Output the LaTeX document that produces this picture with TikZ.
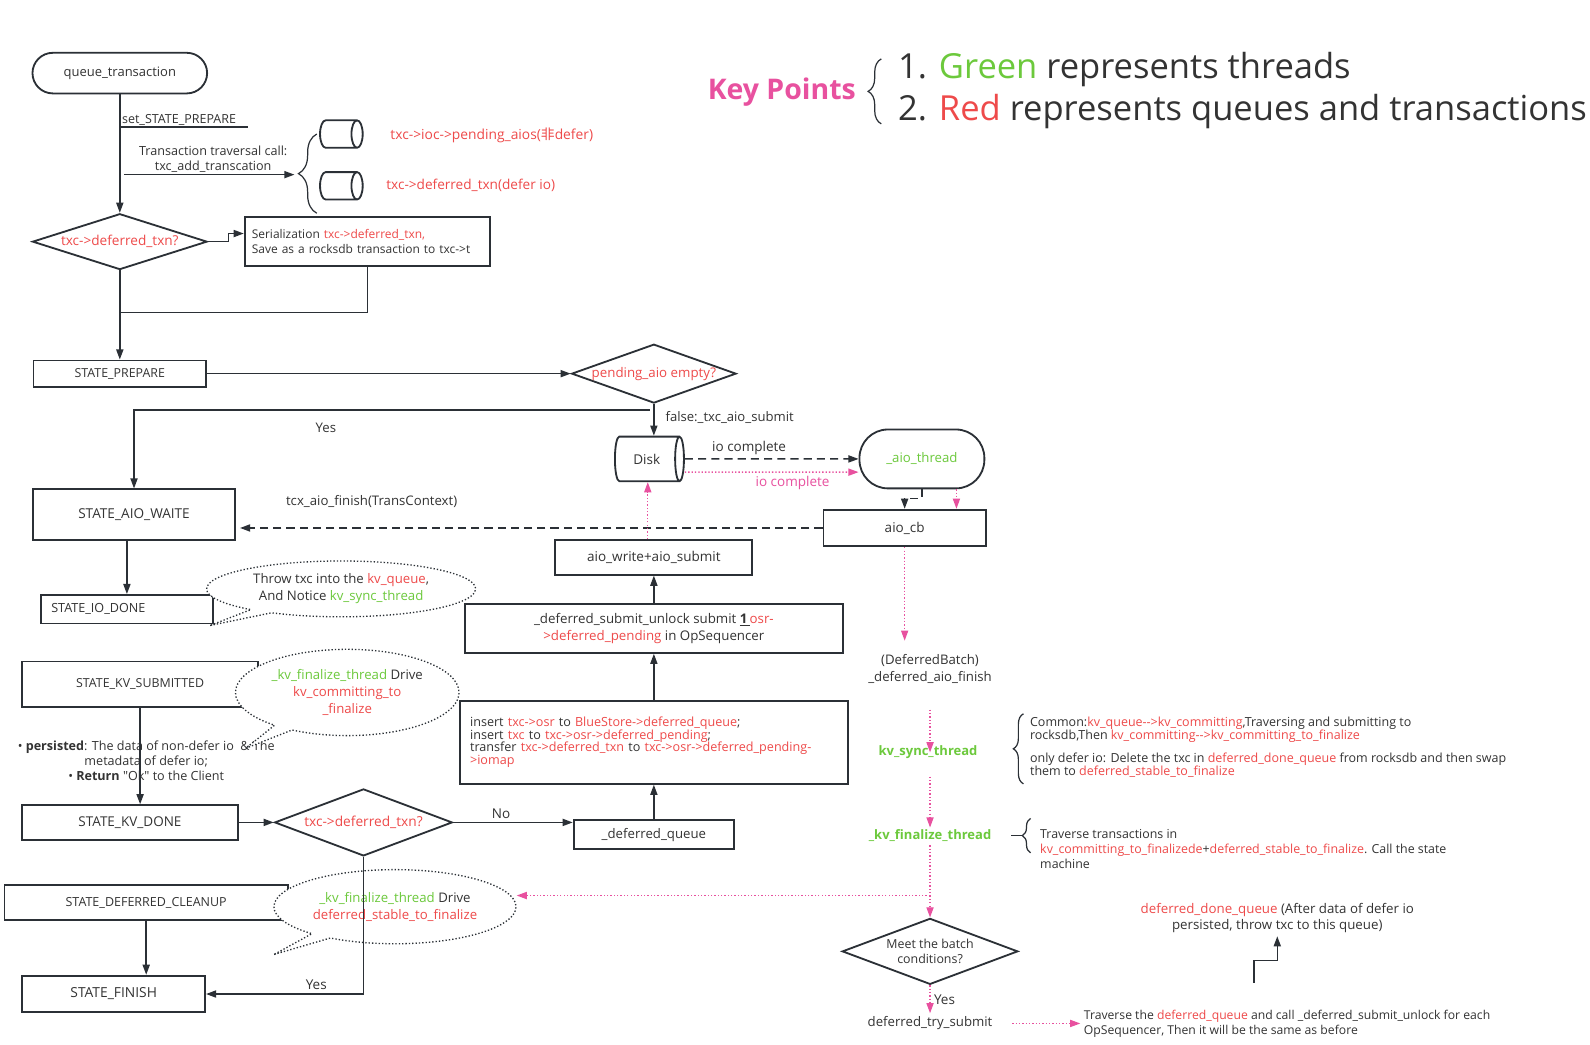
\documentclass[tikz,border=0pt]{standalone}
\usepackage{fontspec}
\setmainfont{Open Sans}[Ligatures=TeXOff]
\newfontfamily\cjk{Noto Sans CJK SC}
\usetikzlibrary{shapes.geometric,shapes.callouts,decorations.pathreplacing,arrows.meta}

\definecolor{kred}{HTML}{EE4A4A}
\definecolor{kgreen}{HTML}{6CC93C}
\definecolor{kpink}{HTML}{E8519F}
\definecolor{kline}{HTML}{2B3036}
\definecolor{ktext}{HTML}{333333}

\newcommand{\redtxt}[1]{\textcolor{kred}{#1}}
\newcommand{\greentxt}[1]{\textcolor{kgreen}{#1}}
\newcommand{\fsize}[2]{\fontsize{#1}{#2}\selectfont}

\begin{document}
\catcode`\_=12
\begin{tikzpicture}[x=1pt, y=-1pt,
    >={Triangle[length=10pt, width=7pt]},
    every node/.style={text=ktext, font=\fsize{13.3}{16}},
    box/.style={draw=kline, line width=1.8pt, inner sep=2pt},
    roundbox/.style={box},
    decision/.style={diamond, draw=kline, line width=1.8pt, inner sep=0pt, aspect=2.8},
    cyl/.style={cylinder, draw=kline, line width=1.8pt, shape aspect=0.85, inner sep=0pt},
    bubble/.style={ellipse callout, draw=kline, dotted, line width=1.3pt, fill=white, align=center, callout pointer arc=11, font=\fsize{13}{17}},
    flow/.style={->, draw=kline, line width=1.5pt},
    dashflow/.style={flow, dash pattern=on 8pt off 5pt},
    pinkflow/.style={->, draw=kpink, line width=1.3pt, dotted},
    bracedeco/.style={decorate, decoration={brace, amplitude=#1}, draw=kline, line width=1.2pt}]

    \fill[white] (0,0) rectangle (1566,1029);
    \useasboundingbox (0,0) rectangle (1566,1029);

    % Key points
    \node[text=kpink, font=\bfseries\fsize{28}{32}] (keyp) at (770,91) {Key Points};
    \draw[bracedeco=13pt] (868,122) -- (868,58);
    \node[anchor=west, font=\fsize{34}{40}] (key1) at (881,68) {1. \greentxt{Green} represents threads};
    \node[anchor=west, font=\fsize{34}{40}] (key2) at (881,110) {2. \redtxt{Red} represents queues and transactions};

    % queue_transaction
    \node[roundbox, rounded corners=20pt, minimum width=172, minimum height=40, font=\fsize{12.8}{15}] (queue) at (118,72) {queue_transaction};
    \node[decision, minimum width=172, minimum height=55, font=\fsize{13.4}{15}] (dec1) at (118,238) {\redtxt{txc->deferred_txn?}};
    \draw[flow] (queue) -- (dec1);
    \node[anchor=south west, text width=122, inner xsep=2pt, inner ysep=1pt, font=\fsize{12.3}{14}] (setlbl) at (118,125) {set_STATE_PREPARE};
    \draw[kline, line width=1.2pt] (setlbl.south west) -- (setlbl.south east);

    % queues
    \node[align=center, font=\fsize{12.4}{15}] (travlbl) at (210,157) {Transaction traversal call:\\txc_add_transcation};
    \coordinate (travstart) at (122,172);
    \coordinate (qtip) at (290,172);
    \draw[flow] (travstart) -- (qtip);
    \draw[bracedeco=18pt] (312,210) -- (312,132);
    \node[cyl, minimum height=42, minimum width=27] (q1) at (333,132) {\rule{0pt}{13pt}};
    \node[cyl, minimum height=42, minimum width=27] (q2) at (333,183) {\rule{0pt}{13pt}};
    \node[anchor=west, text=kred, font=\fsize{13.6}{15}] (q1lbl) at (381,133) {txc->ioc->pending_aios({\cjk 非}defer)};
    \node[anchor=west, text=kred, font=\fsize{13.4}{15}] (q2lbl) at (377,183) {txc->deferred_txn(defer io)};

    % Serialization
    \node[box, minimum width=242, minimum height=48, text width=228, inner xsep=7pt, align=left, font=\fsize{11.8}{15}] (serial) at (362,238) {Serialization \redtxt{txc->deferred_txn,}\\Save as a rocksdb transaction to txc->t};
    \draw[flow] (dec1.east) -- ++(20,0) -- ++(0,-8) -- ([yshift=8pt]serial.west);
    \coordinate (join1) at (118,308);
    \draw[kline, line width=1.5pt] (serial.south) |- (join1);

    % STATE_PREPARE
    \node[box, minimum width=170, minimum height=26, font=\fsize{12.2}{14}] (prep) at (118,368) {STATE_PREPARE};
    \draw[flow] (dec1.south) -- (prep.north);
    \node[decision, minimum width=162, minimum height=58, inner xsep=-8pt, font=\fsize{13.1}{15}] (pend) at (644,368) {\redtxt{pending_aio empty?}};
    \draw[flow] (prep.east) -- (pend.west);

    % Disk and aio
    \node[cyl, minimum height=68, minimum width=44] (disk) at (637,452) {Disk};
    \draw[flow] (pend.south) -- (pend.south |- disk.north);
    \node[anchor=west, font=\fsize{12.9}{15}] (falselbl) at (652,411) {false:_txc_aio_submit};
    \node[roundbox, rounded corners=28pt, minimum width=123, minimum height=58, font=\fsize{13}{15}] (aiothr) at (908,452) {\greentxt{_aio_thread}};
    \draw[dashflow] (disk.east) -- (aiothr.west) node[pos=0.37, above] (iolbl1) {io complete};
    \draw[pinkflow] ([yshift=-13pt]disk.east) -- ([yshift=-13pt]aiothr.west) node[pos=0.62, below, text=kpink] (iolbl2) {io complete};
    \node[box, minimum width=160, minimum height=36] (aiocb) at (891,520) {aio_cb};
    \draw[dashflow] (aiothr.south) -- ++(0,9) -| (aiocb.north);
    \draw[pinkflow] ([xshift=34pt]aiothr.south) -- ([xshift=34pt]aiothr.south |- aiocb.north);

    % STATE_AIO_WAITE
    \node[box, minimum width=199, minimum height=50, font=\fsize{13.4}{15}] (aiowait) at (132,507) {STATE_AIO_WAITE};
    \coordinate (yesfork) at (640,404);
    \draw[flow] (yesfork) -| (aiowait.north);
    \node[font=\fsize{13}{15}] (yes1) at (321,421) {Yes};
    \draw[dashflow, shorten >=4pt] (aiocb.west) -- (aiocb.west -| aiowait.east);
    \node[font=\fsize{13}{15}] (finlbl) at (366,494) {tcx_aio_finish(TransContext)};
    \node[box, minimum width=169, minimum height=28, text width=149, inner xsep=10pt, font=\fsize{12.4}{14}] (iodone) at (125,600) {STATE_IO_DONE};
    \draw[flow] (aiowait.south -| iodone.north) -- (iodone.north);

    % OpSequencer path
    \node[box, minimum width=194, minimum height=34] (aiowrite) at (644,549) {aio_write+aio_submit};
    \draw[pinkflow] ([xshift=-6pt]aiowrite.north) -- ([xshift=-6pt]aiowrite.north |- disk.south);
    \node[box, minimum width=372, minimum height=48, align=center, font=\fsize{13.1}{16}] (unlock) at (644,619) {_deferred_submit_unlock submit \underline{\textbf{1}\,}\redtxt{osr-}\\\redtxt{>deferred_pending} in OpSequencer};
    \draw[flow] (unlock.north) -- (aiowrite.south);
    \node[box, minimum width=382, minimum height=82, text width=362, inner xsep=10pt, align=left, font=\fsize{12.4}{12.5}] (insert) at (644,731) {insert \redtxt{txc->osr} to \redtxt{BlueStore->deferred_queue};\\insert \redtxt{txc} to \redtxt{txc->osr->deferred_pending};\\transfer \redtxt{txc->deferred_txn} to \redtxt{txc->osr->deferred_pending-}\\\redtxt{>iomap}};
    \draw[flow] (insert.north) -- (unlock.south);
    \node[box, minimum width=158, minimum height=29, font=\fsize{13}{15}] (dqueue) at (644,822) {_deferred_queue};
    \draw[flow] (dqueue.north) -- (insert.south);

    % KV states
    \node[box, minimum width=232, minimum height=45, font=\fsize{12.2}{14}] (kvsub) at (138,674) {STATE_KV_SUBMITTED};
    \node[box, minimum width=213, minimum height=34] (kvdone) at (128,810) {STATE_KV_DONE};
    \node[align=center, font=\fsize{12.4}{15}] (persist) at (144,749) {\textbullet\ \textbf{persisted}: The data of non-defer io \ \& The\\metadata of defer io;\\\textbullet\ \textbf{Return} "Ok" to the Client};
    \draw[flow] (kvsub.south) -- (kvsub.south |- kvdone.north);
    \node[decision, minimum width=175, minimum height=66, font=\fsize{13.5}{15}] (dec2) at (358,810) {\redtxt{txc->deferred_txn?}};
    \draw[flow] (kvdone.east) -- (dec2.west);
    \draw[flow] (dec2.east) -- (dec2.east -| dqueue.west) node[pos=0.4, above] (nolbl) {No};
    \node[box, minimum width=279, minimum height=35, font=\fsize{12.3}{14}] (cleanup) at (144,889) {STATE_DEFERRED_CLEANUP};
    \node[box, minimum width=180, minimum height=36, font=\fsize{13.6}{15}] (finish) at (112,979) {STATE_FINISH};
    \draw[flow] (cleanup.south) -- (cleanup.south |- finish.north);

    % callouts
    \node[bubble, minimum width=265, minimum height=55, callout absolute pointer={(207,616)}] (bub1) at (336,580) {Throw txc into the \redtxt{kv_queue},\\ And Notice \greentxt{kv_sync_thread}};
    \node[bubble, minimum width=201, minimum height=85, callout absolute pointer={(242,737)}] (bub2) at (342,682) {\greentxt{_kv_finalize_thread} Drive\\\redtxt{kv_committing_to}\\\redtxt{_finalize}};
    \node[bubble, minimum width=236, minimum height=73, callout absolute pointer={(270,940)}] (bub3) at (389,893) {\greentxt{_kv_finalize_thread} Drive\\\redtxt{deferred_stable_to_finalize}};
    \draw[flow] (dec2.south) |- (finish.east) node[pos=0.65, above] (yes2) {Yes};

    % kv threads
    \node[align=center, font=\fsize{13}{17}] (dbatch) at (916,659) {(DeferredBatch)\\_deferred_aio_finish};
    \draw[pinkflow] (aiocb.south) -- ([yshift=10pt]aiocb.south |- dbatch.north);
    \node[text=kgreen, font=\bfseries\fsize{12.8}{15}] (kvsync) at (914,741) {kv_sync_thread};
    \draw[pinkflow, shorten <=22pt] (dbatch.south) -- (dbatch.south |- kvsync.center);
    \node[text=kgreen, font=\bfseries\fsize{12.8}{15}] (kvfin) at (916,823) {_kv_finalize_thread};
    \draw[pinkflow, shorten <=14pt, shorten >=8pt] (kvsync.south -| kvfin.center) -- (kvfin.center);
    \node[decision, minimum width=173, minimum height=65, aspect=2.66, align=center, font=\fsize{12.2}{15}] (batch) at (916,937) {Meet the batch\\conditions?};
    \draw[pinkflow] (kvfin.south) -- (batch.north);
    \coordinate (finfork) at (916,882);
    \draw[pinkflow] (finfork) -- (finfork -| bub3.east);
    \node[font=\fsize{13}{15}] (trysub) at (916,1008) {deferred_try_submit};
    \draw[pinkflow] (batch.south) -- (trysub.north) node[midway, right] (yes3) {Yes};
    \node[anchor=west, align=left, font=\fsize{12}{15}] (travq) at (1064,1008) {Traverse the \redtxt{deferred_queue} and call _deferred_submit_unlock for each\\OpSequencer, Then it will be the same as before};
    \draw[pinkflow, shorten <=16pt] (trysub.east) -- (travq.west);

    % deferred_done_queue
    \node[align=center, font=\fsize{13.1}{16}] (donequeue) at (1258,904) {\redtxt{deferred_done_queue} (After data of defer io\\persisted, throw txc to this queue)};
    \coordinate (donefoot) at (1235,968);
    \draw[flow] (donefoot) -- ++(0,-22) -| (donequeue.south);

    % notes
    \draw[bracedeco=10pt] (1008,772) -- (1008,703);
    \node[anchor=west, align=left, font=\fsize{12.3}{12.5}] (syncnote) at (1011,736) {Common:\redtxt{kv_queue-->kv_committing},Traversing and submitting to\\rocksdb,Then \redtxt{kv_committing-->kv_committing_to_finalize}\\[10pt]only defer io: Delete the txc in \redtxt{deferred_done_queue} from rocksdb and then swap\\them to \redtxt{deferred_stable_to_finalize}};
    \draw[bracedeco=8pt] (1015,840) -- (1015,806);
    \draw[kline, line width=1.2pt] (996,823) -- (1007,823);
    \node[anchor=west, align=left, font=\fsize{12.2}{15}] (finnote) at (1021,836) {Traverse transactions in\\\redtxt{kv_committing_to_finalizede}+\redtxt{deferred_stable_to_finalize}. Call the state\\machine};
\end{tikzpicture}
\end{document}
